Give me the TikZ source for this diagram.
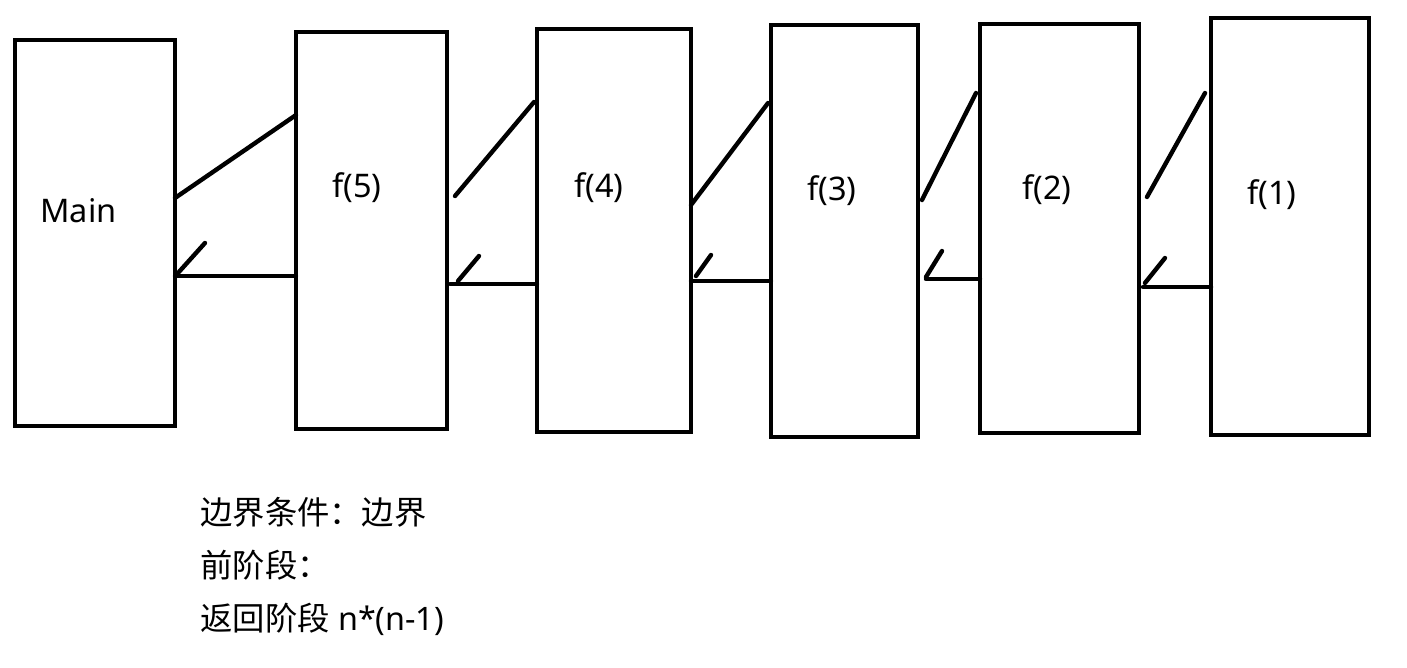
\documentclass[tikz,border=0pt]{standalone}
\usepackage{fontspec}
\setmainfont{Noto Sans}
\newfontfamily\cjk{Noto Sans CJK SC}
\usepackage{tikz}
\usetikzlibrary{calc}

\tikzset{
  frame/.style={draw,line width=2.6pt,inner sep=0pt,outer sep=0pt},
  lbl/.style={anchor=base west,inner sep=0pt,font=\fontsize{18.5}{22}\selectfont},
  note/.style={anchor=base west,inner sep=0pt,font=\fontsize{18.4}{22}\selectfont},
  link/.style={line width=2.5pt,line cap=round}
}

\begin{document}
\begin{tikzpicture}[x=0.02cm,y=-0.02cm]
  \useasboundingbox (0,0) rectangle (1407,667);
  % call frames
  \foreach \n/\cx/\cy/\w/\h in {main/95/233/3.2/7.72, f5/371.5/230.5/3.02/7.94, f4/614/230.5/3.08/8.06,
      f3/844.5/231/2.94/8.24, f2/1059.5/228.5/3.18/8.18, f1/1290/226.5/3.16/8.34}
    \node[frame,minimum width=\w cm,minimum height=\h cm] (\n) at (\cx,\cy) {};
  \node[lbl] (mainlbl) at (40,222) {Main};
  \node[lbl] (f5lbl) at (332,197) {f(5)};
  \node[lbl] (f4lbl) at (574,197) {f(4)};
  \node[lbl] (f3lbl) at (807,200) {f(3)};
  \node[lbl] (f2lbl) at (1022,199) {f(2)};
  \node[lbl] (f1lbl) at (1247,204) {f(1)};
  % calls
  \draw[link] (main.east |- 0,198) -- (f5.west |- 0,115);
  \draw[link] ($(f5.east |- 0,196)+(8,0)$) -- ($(f4.west |- 0,102)+(-3,0)$);
  \draw[link] (f4.east |- 0,205) -- ($(f3.west |- 0,103)+(-3,0)$);
  \draw[link] ($(f3.east |- 0,200)+(4,0)$) -- ($(f2.west |- 0,93)+(-4,0)$);
  \draw[link] ($(f2.east |- 0,197)+(8,0)$) -- ($(f1.west |- 0,93)+(-6,0)$);
  % returns
  \draw[link] (f5.west |- 0,276) -- (main.east |- 0,276);
  \draw[link] ($(main.east |- 0,273)+(3,0)$) -- ++(27,-30);
  \draw[link] (f4.west |- 0,284) -- ($(f5.east |- 0,284)+(3,0)$);
  \draw[link] ($(f5.east |- 0,281)+(11,0)$) -- ++(21,-25);
  \draw[link] (f3.west |- 0,281) -- (f4.east |- 0,281);
  \draw[link] ($(f4.east |- 0,276)+(5,0)$) -- ++(15,-21);
  \draw[link] (f2.west |- 0,279) -- ($(f3.east |- 0,279)+(8,0)$);
  \draw[link] ($(f3.east |- 0,277)+(8,0)$) -- ++(16,-26);
  \draw[link] (f1.west |- 0,287) -- ($(f2.east |- 0,287)+(4,0)$);
  \draw[link] ($(f2.east |- 0,283)+(6,0)$) -- ++(20,-25);
  % notes
  \node[note] (cond) at (200,524) {\cjk 边界条件：边界};
  \node[note] (fwd) at (200,577) {\cjk 前阶段：};
  \node[note] (back) at (200,630) {{\cjk 返回阶段} n*(n-1)};
\end{tikzpicture}
\end{document}
